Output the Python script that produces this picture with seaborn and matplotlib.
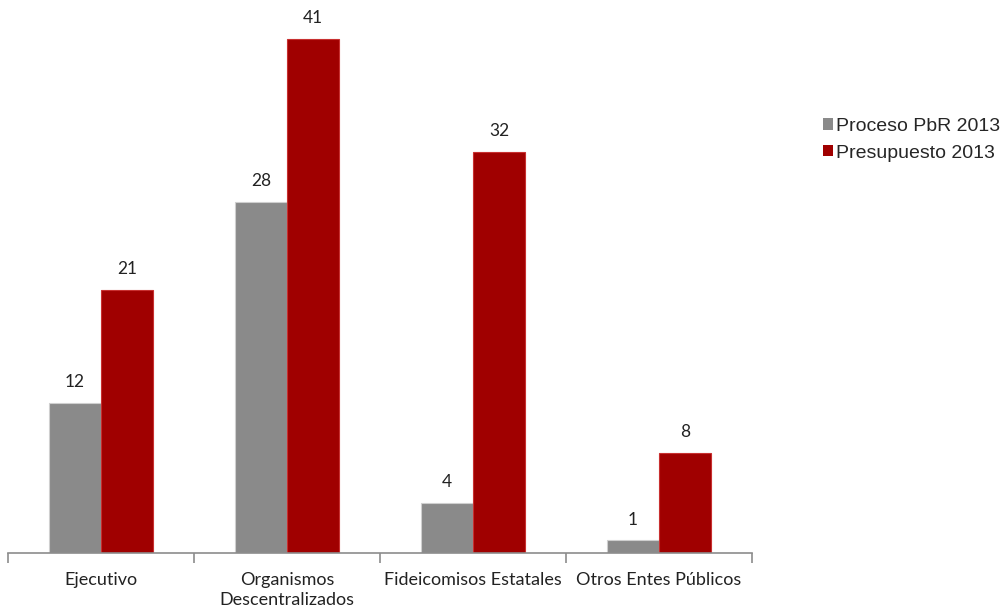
import matplotlib
matplotlib.use("Agg")
import matplotlib.pyplot as plt
import seaborn as sns
import pandas as pd
import numpy as np

categories = ["Ejecutivo", "Organismos\nDescentralizados", "Fideicomisos Estatales", "Otros Entes Públicos"]
series_names = ["Proceso PbR 2013", "Presupuesto 2013"]
pbr_values = [12, 28, 4, 1]
presupuesto_values = [21, 41, 32, 8]
colors = ["#8a8a8a", "#a00000"]

rows = []
for cat, a, b in zip(categories, pbr_values, presupuesto_values):
    rows.append({"Categoria": cat, "Serie": series_names[0], "Valor": a})
    rows.append({"Categoria": cat, "Serie": series_names[1], "Valor": b})
df = pd.DataFrame(rows)

sns.set_style("white")
plt.rcParams["font.family"] = ["Lato", "DejaVu Sans"]

fig = plt.figure(figsize=(10.05, 6.1), dpi=100)
ax = fig.add_axes([8 / 1005, 57 / 610, 744 / 1005, 543 / 610])

sns.barplot(data=df, x="Categoria", y="Valor", hue="Serie", palette=colors,
            width=0.56, ax=ax, saturation=1, edgecolor="none", legend=True)

# light bevel edge on each bar
for patch in ax.patches:
    if patch.get_height() > 0:
        patch.set_edgecolor("#cfcfcf" if patch.get_facecolor()[0] < 0.6 else "#c83030")
        patch.set_linewidth(0.8)

for container in ax.containers:
    ax.bar_label(container, padding=9, fontsize=12.5, color="#222222")

ax.set_ylim(0, 43.3)
ax.set_xlim(-0.5, len(categories) - 0.5)
ax.set_xlabel("")
ax.set_ylabel("")
ax.set_yticks([])
for side in ["top", "right", "left"]:
    ax.spines[side].set_visible(False)
ax.spines["bottom"].set_color("#8c8c8c")
ax.spines["bottom"].set_linewidth(1.2)

ax.set_xticks(np.arange(len(categories)))
ax.set_xticklabels(categories, fontsize=13, color="#222222", linespacing=1.3)
ax.tick_params(axis="x", which="major", length=0, pad=14)
ax.set_xticks(np.arange(len(categories) + 1) - 0.5, minor=True)
ax.tick_params(axis="x", which="minor", bottom=True, length=7, color="#8c8c8c",
               width=1.2, direction="out")

ax.legend(loc="upper left", bbox_to_anchor=(807 / 744, 1 - 100 / 543),
          frameon=False, prop={"family": "Liberation Sans", "size": 14},
          handlelength=0.55, handleheight=0.55, handletextpad=0.15, labelspacing=0.5,
          borderaxespad=0)

fig.savefig("out.png", dpi=100)
